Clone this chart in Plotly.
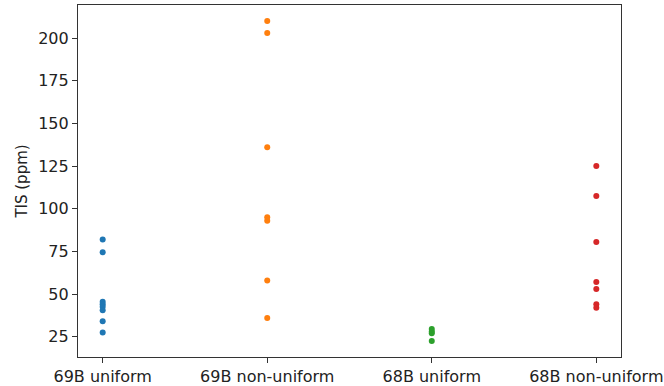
import plotly.graph_objects as go

categories = ["69B uniform", "69B non-uniform", "68B uniform", "68B non-uniform"]
vals_69b_uniform = [82, 74.5, 45.5, 44, 42.5, 40.5, 34, 27.5]
vals_69b_nonuniform = [210, 203, 136, 95, 93, 58, 36]
vals_68b_uniform = [29.5, 28, 27, 22.5]
vals_68b_nonuniform = [125, 107.5, 80.5, 57, 53, 44, 42]
series = [vals_69b_uniform, vals_69b_nonuniform, vals_68b_uniform, vals_68b_nonuniform]
colors = ["#1f77b4", "#ff7f0e", "#2ca02c", "#d62728"]
y_ticks = [25, 50, 75, 100, 125, 150, 175, 200]

fig = go.Figure()
for cat, vals, col in zip(categories, series, colors):
    fig.add_trace(go.Scatter(
        x=[cat] * len(vals), y=vals, mode="markers",
        marker=dict(color=col, size=6, line=dict(width=0)),
        showlegend=False, hoverinfo="skip",
    ))

axis_common = dict(
    showline=True, linecolor="#333333", linewidth=1.2, mirror=True,
    ticks="outside", ticklen=5, tickwidth=1.1, tickcolor="#333333",
    showgrid=False, zeroline=False, automargin=False,
    tickfont=dict(family="DejaVu Sans", size=16, color="#222222"),
)

fig.update_xaxes(type="category", categoryorder="array", categoryarray=categories,
                 range=[-0.15, 3.15], **axis_common)
fig.update_yaxes(range=[13.1, 219.4], tickvals=y_ticks,
                 title=dict(text="TIS (ppm)", font=dict(family="DejaVu Sans", size=15, color="#222222"), standoff=6),
                 **axis_common)

fig.update_layout(
    width=664, height=386,
    margin=dict(l=78, r=43, t=5, b=29),
    paper_bgcolor="white", plot_bgcolor="white",
    font=dict(family="DejaVu Sans"),
)

fig.write_html("out.html", config={"displayModeBar": False},
               post_script="document.body.style.margin='0';document.body.style.padding='0';")
